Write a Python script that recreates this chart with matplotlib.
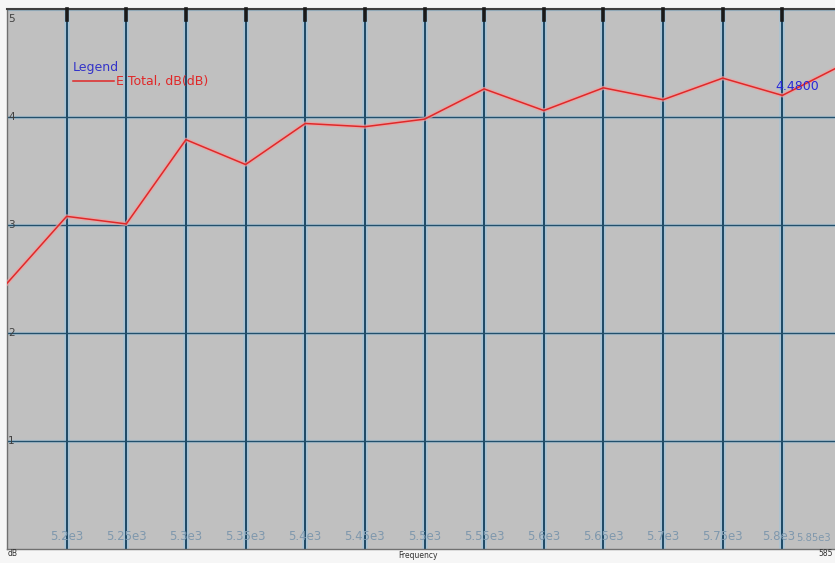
import numpy as np
import matplotlib.pyplot as plt

# E Total sweep, dB vs frequency (MHz)
freq = [5150, 5200, 5250, 5300, 5350, 5400, 5450, 5500, 5550, 5600, 5650, 5700, 5750, 5800, 5850]
e_total_db = [2.46, 3.08, 3.01, 3.79, 3.56, 3.94, 3.91, 3.98, 4.26, 4.06, 4.27, 4.16, 4.36, 4.20, 4.48]

x_ticks = [5200, 5250, 5300, 5350, 5400, 5450, 5500, 5550, 5600, 5650, 5700, 5750, 5800, 5850]
x_tick_labels = ["5.2e3", "5.25e3", "5.3e3", "5.35e3", "5.4e3", "5.45e3", "5.5e3",
                 "5.55e3", "5.6e3", "5.65e3", "5.7e3", "5.75e3", "5.8e3", "5.85e3"]
y_ticks = [1, 2, 3, 4, 5]

marker_label = "4.4800"

fig = plt.figure(figsize=(8.35, 5.63), dpi=100)
fig.patch.set_facecolor("#f6f6f6")
ax = fig.add_axes([7 / 835, 14 / 563, 835 / 835, 540 / 563])
ax.set_facecolor("#c0c0c0")
ax.set_xlim(5150, 5850)
ax.set_ylim(0, 5)

# grid with a soft halo
for xv in x_ticks:
    ax.axvline(xv, color="#9fc4dd", lw=4, alpha=0.7, zorder=1)
    ax.axvline(xv, color="#1d4864", lw=1.4, zorder=2)
    # short heavy tick at the top edge
    ax.plot([xv, xv], [4.9, 5.0], color="#1a1a1a", lw=2.6, zorder=3, clip_on=False)
for yv in y_ticks:
    ax.axhline(yv, color="#9fc4dd", lw=2.5, alpha=0.5, zorder=1)
    ax.axhline(yv, color="#23506c", lw=1.0, zorder=2)

ax.plot(freq, e_total_db, color="#f0a0a0", lw=3, alpha=0.7, zorder=4)
ax.plot(freq, e_total_db, color="#e02828", lw=1.1, zorder=5)

ax.set_xticks([])
ax.set_yticks([])
for s in ax.spines.values():
    s.set_color("#707070")
    s.set_linewidth(1.0)
ax.spines["top"].set_color("#404040")
ax.spines["top"].set_linewidth(1.5)

# tick labels drawn inside the plot area; the last one is pulled in from the edge
for xv, lab in zip(x_ticks, x_tick_labels):
    if xv == x_ticks[-1]:
        ax.text(5841, 0.06, lab, color="#7f98ad", fontsize=7.2, ha="right", va="bottom", zorder=6)
    elif xv == x_ticks[-2]:
        ax.text(5797, 0.06, lab, color="#7f98ad", fontsize=8.5, ha="center", va="bottom", zorder=6)
    else:
        ax.text(xv, 0.06, lab, color="#7f98ad", fontsize=8.5, ha="center", va="bottom", zorder=6)
for yv in y_ticks:
    ax.text(5151, min(yv, 4.95), str(yv), color="#404040", fontsize=7.5,
            ha="left", va="top" if yv == 5 else "center", zorder=6)

# legend block
ax.text(5205, 4.46, "Legend", color="#3434c8", fontsize=9, ha="left", va="center", zorder=6)
ax.plot([5205, 5240], [4.33, 4.33], color="#e02828", lw=1.1, zorder=6)
ax.text(5241, 4.33, "E Total, dB(dB)", color="#e02828", fontsize=9, ha="left", va="center", zorder=6)

ax.text(5794, 4.28, marker_label, color="#2828d8", fontsize=9, ha="left", va="center", zorder=6)

fig.text(8 / 835, 1 - 553 / 563, "dB", fontsize=5.5, color="#303030", ha="left", va="center")
fig.text(418 / 835, 1 - 556 / 563, "Frequency", fontsize=5.5, color="#303030", ha="center", va="center")
fig.text(826 / 835, 1 - 553 / 563, "585", fontsize=5.5, color="#303030", ha="center", va="center")

fig.savefig("out.png", dpi=100, facecolor=fig.get_facecolor())
